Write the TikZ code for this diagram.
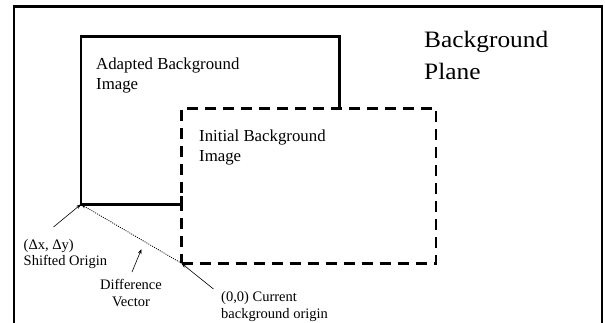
\documentclass[tikz,border=0pt]{standalone}
\usepackage{fontspec}
\setmainfont{Liberation Serif}
\usetikzlibrary{arrows.meta}
\begin{document}
\begin{tikzpicture}[x=1pt,y=-1pt,
  frame/.style={line width=2.2pt},
  solidimg/.style={line width=2.6pt, line join=miter},
  dashimg/.style={line width=2.6pt, dash pattern=on 11pt off 7pt},
  lbl/.style={anchor=base west, inner sep=0pt},
  big/.style={lbl, font=\fontsize{23.5}{28}\selectfont, xscale=1.08},
  mid/.style={lbl, font=\fontsize{16.8}{20}\selectfont},
  small/.style={lbl, font=\fontsize{14.5}{17}\selectfont},
  ptr/.style={line width=0.6pt, -{Stealth[length=5pt,width=3.5pt]}},
  dotptr/.style={line width=0.8pt, dash pattern=on 1pt off 1.2pt, -{Stealth[length=5pt,width=3.5pt]}}]
\useasboundingbox (0,0) rectangle (605,322);
\clip (0,0) rectangle (605,322);
\fill[white] (0,0) rectangle (605,322);
% background plane frame (open at the bottom)
\draw[frame] (14,330) -- (14,6.5) -- (602,6.5) -- (602,330);
% corners
\coordinate (A) at (81,204.3);
\coordinate (B) at (181.5,263.3);
% adapted background image (solid)
\draw[solidimg] (181.5,196) -- (181.5,204.3) -- (A) -- (81,36.7) -- (339.5,36.7) -- (339.5,108.3);
% initial background image (dashed)
\draw[dashimg] (B) -- (436,263.3) -- (436,108.3) -- (181.5,108.3) -- cycle;
% texts
\node[big] (bg1) at (424,47) {Background};
\node[big] (bg2) at (424,79) {Plane};
\node[mid] (ad1) at (96,69) {Adapted Background};
\node[mid] (ad2) at (96,89) {Image};
\node[mid] (in1) at (199,141) {Initial Background};
\node[mid] (in2) at (199,161) {Image};
\node[small] (so1) at (23.5,249) {(Δx, Δy)};
\node[small] (so2) at (23.5,265.5) {Shifted Origin};
\node[small, anchor=base] (dv1) at (131,289.5) {Difference};
\node[small, anchor=base] (dv2) at (131,306.5) {Vector};
\node[small] (co1) at (221,301) {(0,0) Current};
\node[small] (co2) at (221,318) {background origin};
% connectors
\coordinate (t1) at (53.5,227);
\coordinate (t2) at (132,272);
\coordinate (h2) at (141.5,249);
\coordinate (t3) at (213.5,289);
\draw[dotptr] (B) -- (A);
\draw[ptr] (t1) -- (A);
\draw[ptr] (t2) -- (h2);
\draw[ptr] (t3) -- (B);
\end{tikzpicture}
\end{document}
